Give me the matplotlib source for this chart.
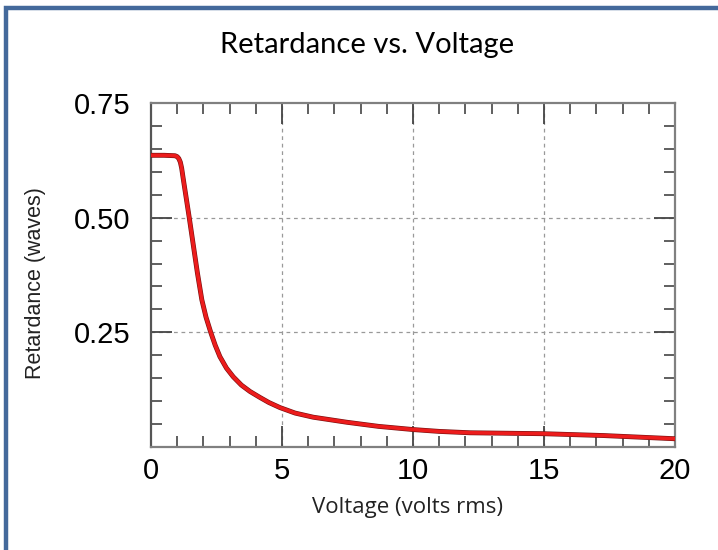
import matplotlib
matplotlib.use("Agg")
import matplotlib.pyplot as plt
import matplotlib.patheffects as pe
from matplotlib.patches import Rectangle
from matplotlib.ticker import MultipleLocator, FixedLocator

voltage = [0.0, 0.5, 0.92, 1.0, 1.06, 1.12, 1.17, 1.23, 1.36, 1.46, 1.61, 1.77, 1.94,
           2.1, 2.28, 2.45, 2.63, 2.88, 3.14, 3.45, 3.78, 4.16, 4.5, 4.92, 5.5, 6.19,
           7.47, 8.68, 10.01, 11.0, 12.18, 14.97, 17.26, 20.0]
retardance = [0.636, 0.636, 0.635, 0.633, 0.629, 0.621, 0.608, 0.585, 0.537, 0.500,
              0.442, 0.380, 0.321, 0.283, 0.250, 0.222, 0.197, 0.172, 0.153, 0.135,
              0.121, 0.108, 0.097, 0.086, 0.074, 0.065, 0.054, 0.045, 0.038, 0.034,
              0.031, 0.029, 0.025, 0.018]
xticks = [0, 5, 10, 15, 20]
yticks = [0.25, 0.50, 0.75]
ytick_labels = ["0.25", "0.50", "0.75"]

fig = plt.figure(figsize=(7.18, 5.5), dpi=100)
fig.patches.append(Rectangle((5.5/718, -0.2), 1.5, 1.2 - 8.3/550,
                             transform=fig.transFigure, fill=False,
                             edgecolor="#44699b", linewidth=3.2))

ax = fig.add_axes([151/718, 1-447/550, 524/718, 344/550])
ax.set_xlim(0, 20)
ax.set_ylim(0, 0.75)

ax.plot(voltage, retardance, color="#ec1c1c", linewidth=2.6, solid_joinstyle="round",
        path_effects=[pe.Stroke(linewidth=3.5, foreground="#7a1010"), pe.Normal()], zorder=3)

ax.xaxis.set_major_locator(FixedLocator(xticks))
ax.xaxis.set_minor_locator(MultipleLocator(1))
ax.yaxis.set_major_locator(FixedLocator(yticks))
ax.yaxis.set_minor_locator(MultipleLocator(0.05))
ax.set_yticklabels(ytick_labels)

ax.tick_params(which="both", direction="in", top=True, right=True, color="#444444")
ax.tick_params(which="major", length=15, width=1.3, labelsize=21, pad=7)
ax.tick_params(which="minor", length=8, width=1.2)
for lab in ax.get_xticklabels() + ax.get_yticklabels():
    lab.set_family("Liberation Sans")
ax.tick_params(axis="y", pad=15)

for s in ax.spines.values():
    s.set_color("#808080")
    s.set_linewidth(1.6)
ax.spines["left"].set_color("#555555")

for x in [5, 10, 15]:
    ax.axvline(x, color="#999999", linewidth=0.9, linestyle=(0, (3, 3)), zorder=1)
for y in [0.25, 0.50]:
    ax.axhline(y, color="#999999", linewidth=0.9, linestyle=(0, (3, 3)), zorder=1)

ax.set_xlabel("Voltage (volts rms)", fontsize=16, family="Open Sans", color="#222222")
ax.xaxis.set_label_coords((407 - 151) / 524, (447 - 508) / 344)
ax.xaxis.label.set_va("center")
ax.set_ylabel("Retardance (waves)", fontsize=15.5, family="Liberation Sans", color="#222222")
ax.yaxis.set_label_coords((36 - 151) / 524, (447 - 283) / 344)
ax.yaxis.label.set_va("center")

fig.text(367/718, 1-45/550, "Retardance vs. Voltage", ha="center", va="center",
         fontsize=21, family="Lato", color="black")

fig.savefig("out.png", dpi=100)
